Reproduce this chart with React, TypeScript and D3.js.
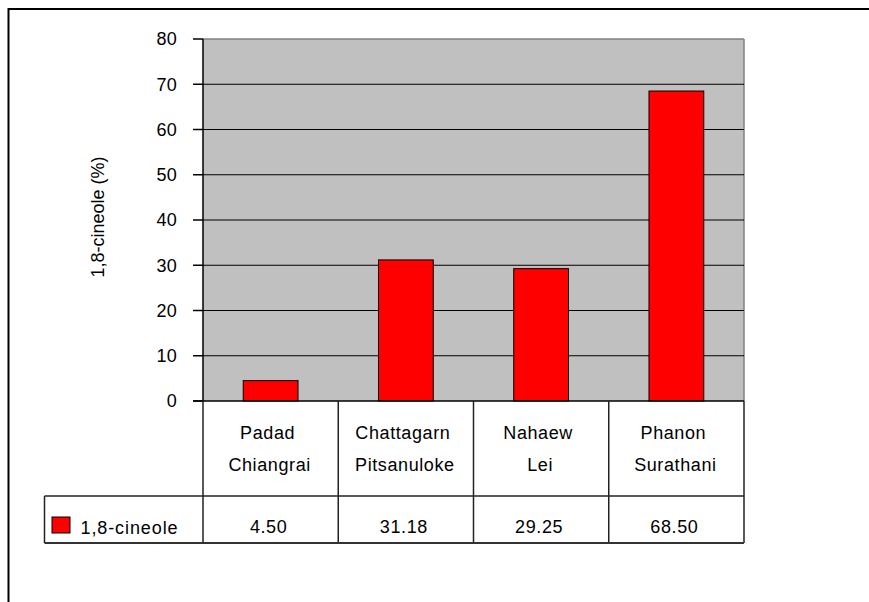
import React from "react";
import * as d3 from "d3";

const categoriesLine1 = ["Padad", "Chattagarn", "Nahaew", "Phanon"];
const categoriesLine2 = ["Chiangrai", "Pitsanuloke", "Lei", "Surathani"];
const values = [4.5, 31.18, 29.25, 68.5];
const valueLabels = ["4.50", "31.18", "29.25", "68.50"];
const yTicks = [0, 10, 20, 30, 40, 50, 60, 70, 80];
const seriesName = "1,8-cineole";
const yTitle = "1,8-cineole (%)";

const FONT = "Arial, 'Liberation Sans', sans-serif";

export default function App() {
  const left = 203;
  const right = 744;
  const top = 39;
  const bottom = 401;
  const tableMid = 496;
  const tableBottom = 543;
  const tableLeft = 44.5;

  const y = d3.scaleLinear().domain([0, 80]).range([bottom, top]);
  const x = d3
    .scaleBand<string>()
    .domain(categoriesLine1)
    .range([left, right])
    .padding(0);
  const bw = x.bandwidth();
  const barW = bw * 0.405;

  const cellEdges = [left, ...categoriesLine1.map((c) => (x(c) as number) + bw)];

  return (
    <svg
      width={869}
      height={602}
      style={{ position: "absolute", left: 0, top: 0, background: "#fff" }}
      fontFamily={FONT}
    >
      {/* outer frame */}
      <rect x={8.5} y={9} width={1000} height={800} fill="none" stroke="#000" strokeWidth={2} />

      {/* plot area */}
      <rect x={left} y={top} width={right - left} height={bottom - top} fill="#C0C0C0" />
      <line x1={left} x2={right} y1={top} y2={top} stroke="#808080" strokeWidth={1.5} />
      <line x1={right} x2={right} y1={top} y2={bottom} stroke="#808080" strokeWidth={1.5} />

      {/* gridlines */}
      {yTicks
        .filter((t) => t !== 0 && t !== 80)
        .map((t) => (
          <line key={"g" + t} x1={left} x2={right} y1={y(t)} y2={y(t)} stroke="#000" strokeWidth={1} />
        ))}

      {/* bars */}
      {values.map((v, i) => {
        const cx = (x(categoriesLine1[i]) as number) + bw / 2;
        return (
          <rect
            key={"b" + i}
            x={cx - barW / 2}
            y={y(v)}
            width={barW}
            height={y(0) - y(v)}
            fill="#FF0000"
            stroke="#000"
            strokeWidth={1}
          />
        );
      })}

      {/* y axis */}
      <line x1={left} x2={left} y1={top} y2={bottom} stroke="#000" strokeWidth={1.5} />
      {yTicks.map((t) => (
        <g key={"t" + t}>
          <line x1={193} x2={left} y1={y(t)} y2={y(t)} stroke="#000" strokeWidth={1.5} />
          <text x={177} y={y(t)} dy="0.35em" textAnchor="end" fontSize={18} fill="#000" letterSpacing={0.3}>
            {t}
          </text>
        </g>
      ))}
      <text
        transform={`translate(98,${(top + bottom) / 2 - 3}) rotate(-90)`}
        dy="0.35em"
        textAnchor="middle"
        fontSize={18}
        fill="#000"
      >
        {yTitle}
      </text>

      {/* x axis / table */}
      <line x1={193} x2={right} y1={bottom} y2={bottom} stroke="#000" strokeWidth={1.5} />
      {cellEdges.map((ex, i) => (
        <line key={"v" + i} x1={ex} x2={ex} y1={bottom} y2={tableBottom} stroke="#222" strokeWidth={1.5} />
      ))}
      <line x1={tableLeft} x2={right} y1={tableMid} y2={tableMid} stroke="#222" strokeWidth={1.5} />
      <line x1={tableLeft} x2={right} y1={tableBottom} y2={tableBottom} stroke="#333" strokeWidth={2} />
      <line x1={tableLeft} x2={tableLeft} y1={tableMid} y2={tableBottom} stroke="#222" strokeWidth={1.5} />

      {categoriesLine1.map((c, i) => {
        const cx = (x(c) as number) + bw / 2;
        return (
          <g key={"c" + i} fontSize={18} fill="#000" textAnchor="middle" letterSpacing={0.6}>
            <text x={cx - 3} y={438.5}>{c}</text>
            <text x={cx - 1} y={471}>{categoriesLine2[i]}</text>
            <text x={cx - 2} y={532.5}>{valueLabels[i]}</text>
          </g>
        );
      })}

      {/* legend */}
      <rect x={52} y={517} width={18} height={16} fill="#FF0000" stroke="#000" strokeWidth={1} />
      <text x={80.5} y={533.5} fontSize={18} fill="#000" letterSpacing={0.9}>
        {seriesName}
      </text>
    </svg>
  );
}
